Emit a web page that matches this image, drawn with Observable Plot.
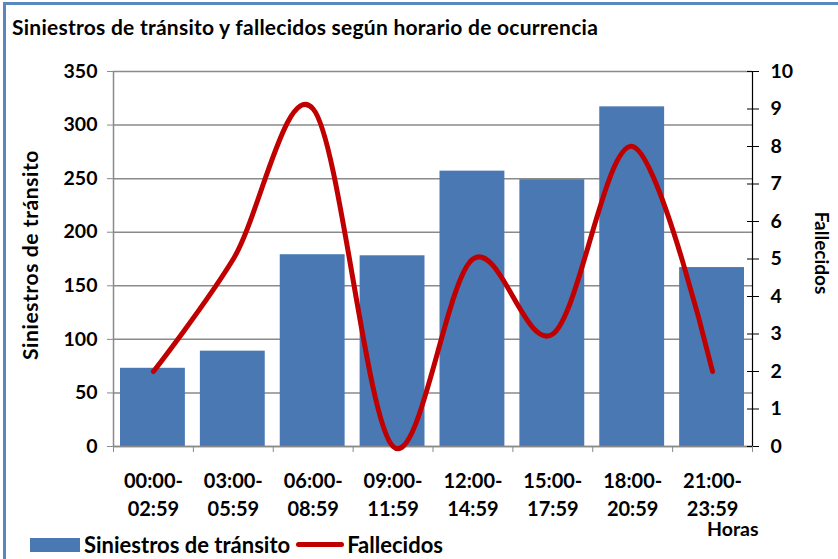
<!DOCTYPE html>
<html>
<head>
<meta charset="utf-8">
<script src="https://cdn.jsdelivr.net/npm/d3@7"></script>
<script src="https://cdn.jsdelivr.net/npm/@observablehq/plot@0.6"></script>
<style>
  html, body { margin: 0; padding: 0; background: #fff; }
  #wrap { position: relative; width: 838px; height: 559px; overflow: hidden; font-family: Lato, "Open Sans", sans-serif; font-weight: bold; color: #000; }
  #border { position: absolute; left: 3px; top: 2px; width: 840px; height: 600px; border-left: 3px solid #5b87c0; border-top: 3px solid #5b87c0; box-sizing: border-box; }
  #title { position: absolute; left: 12px; top: 14px; font-size: 21px; letter-spacing: 0.25px; white-space: nowrap; }
  #chart { position: absolute; left: 0; top: 0; }
  .ytitle { position: absolute; white-space: nowrap; transform-origin: center; }
  #yl { left: 29px; top: 255px; font-size: 21px; letter-spacing: 0.6px; transform: translate(-50%, -50%) rotate(-90deg); }
  #yr { left: 822px; top: 253px; font-size: 19px; transform: translate(-50%, -50%) rotate(90deg); }
  #horas { position: absolute; left: 707px; top: 519px; font-size: 19.5px; line-height: 1; }
  #legend { position: absolute; left: 30px; top: 531px; font-size: 22px; display: flex; align-items: center; white-space: nowrap; }
  .swb { display: inline-block; width: 50px; height: 14px; background: #4a78b3; margin-right: 4px; }
  .swl { display: inline-block; width: 48px; height: 5px; background: #c00000; border-radius: 3px; margin-left: 6px; margin-right: 3px; }
</style>
</head>
<body>
<div id="wrap">
  <div id="border"></div>
  <div id="chart"></div>
  <div id="title">Siniestros de tránsito y fallecidos según horario de ocurrencia</div>
  <div class="ytitle" id="yl">Siniestros de tránsito</div>
  <div class="ytitle" id="yr">Fallecidos</div>
  <div id="horas">Horas</div>
  <div id="legend"><span class="swb"></span>Siniestros de tránsito<span class="swl"></span>Fallecidos</div>
</div>
<script>
const categories = ["00:00-\n02:59", "03:00-\n05:59", "06:00-\n08:59", "09:00-\n11:59", "12:00-\n14:59", "15:00-\n17:59", "18:00-\n20:59", "21:00-\n23:59"];
const siniestros = [73, 89, 179, 178, 257, 249, 317, 167];
const fallecidos = [2, 5, 9, 0, 5, 3, 8, 2];
const leftTicks = [0, 50, 100, 150, 200, 250, 300, 350];
const rightTicks = [0, 1, 2, 3, 4, 5, 6, 7, 8, 9, 10];
const leftMax = 350;
const rightMax = 10;
const k = leftMax / rightMax;

const data = categories.map((c, i) => ({i, cat: c, s: siniestros[i], f: fallecidos[i]}));

const plot = Plot.plot({
  width: 838,
  height: 559,
  marginLeft: 113,
  marginRight: 86,
  marginTop: 71,
  marginBottom: 113,
  style: {fontFamily: "Lato, 'Open Sans', sans-serif", fontWeight: "bold", fontSize: "19.5px", background: "transparent", color: "#000"},
  x: {domain: [0, categories.length]},
  y: {domain: [0, leftMax]},
  marks: [
    Plot.gridY(leftTicks, {stroke: "#8a8a8a", strokeOpacity: 1, strokeWidth: 1.5}),
    Plot.rectY(data, {x1: d => d.i, x2: d => d.i + 1, y: "s", fill: "#4a78b3", insetLeft: 7, insetRight: 8}),
    Plot.ruleX([0], {stroke: "#8a8a8a", strokeWidth: 1.5}),
    Plot.ruleY([0], {stroke: "#8a8a8a", strokeWidth: 1.5}),
    Plot.ruleX([categories.length], {stroke: "#000", strokeWidth: 1.2}),
    Plot.axisY(leftTicks, {anchor: "left", label: null, tickSize: 6, tickPadding: 10, stroke: "#8a8a8a", strokeOpacity: 1}),
    Plot.axisY(rightTicks.map(d => d * k), {anchor: "right", label: null, tickSize: 6, tickPadding: 12, tickFormat: d => Math.round(d / k), strokeOpacity: 1}),
    Plot.axisY(rightTicks.map(d => d * k), {anchor: "right", label: null, tickSize: -6, tickFormat: () => "", strokeOpacity: 1}),
    Plot.axisX(d3.range(categories.length + 1), {anchor: "bottom", label: null, tickSize: 6, tickFormat: () => "", stroke: "#8a8a8a", strokeOpacity: 1}),
    Plot.axisX(data.map(d => d.i + 0.5), {anchor: "bottom", label: null, tickSize: 0, tickPadding: 22, lineHeight: 1.4, fontSize: 20, tickFormat: v => categories[Math.floor(v)]}),
    Plot.line(data, {x: d => d.i + 0.5, y: d => d.f * k, curve: "cardinal", stroke: "#c00000", strokeWidth: 5})
  ]
});
document.getElementById("chart").appendChild(plot);
</script>
</body>
</html>
